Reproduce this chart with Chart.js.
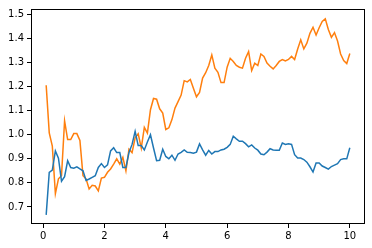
<!DOCTYPE html>
<html>
<head>
<meta charset="utf-8">
<script src="https://cdn.jsdelivr.net/npm/chart.js@4"></script>
<style>
  html, body { margin: 0; padding: 0; background: #fff; }
  #wrap { width: 372px; height: 248px; }
</style>
</head>
<body>
<div id="wrap"><canvas id="grafica" width="372" height="248"></canvas></div>
<script>
// x positions of the samples
var xs = [0.1,0.2,0.3,0.4,0.5,0.6,0.7,0.8,0.9,1.0,
  1.1,1.2,1.3,1.4,1.5,1.6,1.7,1.8,1.9,2.0,
  2.1,2.2,2.3,2.4,2.5,2.6,2.7,2.8,2.9,3.0,
  3.1,3.2,3.3,3.4,3.5,3.6,3.7,3.8,3.9,4.0,
  4.1,4.2,4.3,4.4,4.5,4.6,4.7,4.8,4.9,5.0,
  5.1,5.2,5.3,5.4,5.5,5.6,5.7,5.8,5.9,6.0,
  6.1,6.2,6.3,6.4,6.5,6.6,6.7,6.8,6.9,7.0,
  7.1,7.2,7.3,7.4,7.5,7.6,7.7,7.8,7.9,8.0,
  8.1,8.2,8.3,8.4,8.5,8.6,8.7,8.8,8.9,9.0,
  9.1,9.2,9.3,9.4,9.5,9.6,9.7,9.8,9.9,10.0]

var azul = [0.667,0.844,0.853,0.933,0.903,0.807,0.826,0.892,0.864,0.861,
  0.867,0.858,0.850,0.810,0.816,0.823,0.830,0.864,0.880,0.864,
  0.875,0.933,0.946,0.926,0.926,0.864,0.864,0.926,0.960,1.014,
  0.955,0.955,0.937,0.970,1.000,0.945,0.892,0.894,0.940,0.910,
  0.900,0.915,0.894,0.920,0.927,0.937,0.927,0.926,0.923,0.928,
  0.962,0.937,0.915,0.935,0.920,0.930,0.930,0.937,0.940,0.948,
  0.960,0.994,0.983,0.973,0.973,0.963,0.950,0.958,0.945,0.936,
  0.920,0.917,0.928,0.942,0.937,0.936,0.936,0.966,0.960,0.963,
  0.960,0.917,0.903,0.903,0.897,0.886,0.867,0.845,0.883,0.883,
  0.870,0.864,0.857,0.868,0.874,0.880,0.897,0.900,0.900,0.946]

var naranja = [1.206,1.008,0.953,0.755,0.817,0.830,1.058,0.980,0.980,1.005,
  1.005,0.976,0.830,0.817,0.775,0.790,0.787,0.767,0.820,0.823,
  0.844,0.858,0.878,0.900,0.878,0.906,0.850,0.940,0.926,0.987,
  1.004,0.945,1.031,1.007,1.104,1.151,1.148,1.108,1.090,1.022,
  1.029,1.063,1.111,1.138,1.165,1.225,1.220,1.230,1.193,1.158,
  1.176,1.236,1.258,1.288,1.332,1.277,1.260,1.217,1.217,1.281,
  1.318,1.305,1.288,1.281,1.277,1.318,1.346,1.267,1.298,1.288,
  1.336,1.326,1.298,1.285,1.274,1.288,1.305,1.313,1.307,1.313,
  1.326,1.313,1.357,1.395,1.357,1.381,1.422,1.447,1.415,1.445,
  1.471,1.482,1.438,1.405,1.425,1.390,1.336,1.309,1.296,1.338]

var xTicks = [0, 2, 4, 6, 8, 10]
var yTicks = [0.7, 0.8, 0.9, 1.0, 1.1, 1.2, 1.3, 1.4, 1.5]

var puntos = (ys) => ys.map((y, i) => ({x: xs[i], y: y}))

// marco negro alrededor del area (estilo matplotlib)
var marco = {
  id: 'marco',
  afterDraw(chart) {
    var a = chart.chartArea, c = chart.ctx
    c.save()
    c.strokeStyle = '#000'
    c.lineWidth = 1
    c.strokeRect(Math.round(a.left) + 0.5, Math.round(a.top) + 0.5,
      Math.round(a.right - a.left) - 1, Math.round(a.bottom - a.top) - 1)
    c.restore()
  }
}

Chart.defaults.font.family = 'DejaVu Sans'
Chart.defaults.font.size = 10
Chart.defaults.color = '#000'

var ctx = document.getElementById('grafica')
var grafica = new Chart(ctx, {
  type: 'line',
  data: {
    datasets: [
      { data: puntos(azul), borderColor: '#1f77b4', borderWidth: 1.5, pointRadius: 0, tension: 0 },
      { data: puntos(naranja), borderColor: '#ff7f0e', borderWidth: 1.5, pointRadius: 0, tension: 0 }
    ]
  },
  options: {
    responsive: false,
    animation: false,
    layout: { padding: { top: 6, right: 7, left: 0, bottom: 0 } },
    plugins: { legend: { display: false }, tooltip: { enabled: false } },
    scales: {
      x: {
        type: 'linear',
        min: -0.395,
        max: 10.495,
        border: { display: false },
        grid: { drawOnChartArea: false, tickLength: 4, tickColor: '#000' },
        ticks: { padding: 2, maxRotation: 0, callback: v => String(v) },
        afterBuildTicks: s => { s.ticks = xTicks.map(v => ({ value: v })) },
        afterFit: s => { s.height = 24 }
      },
      y: {
        min: 0.629,
        max: 1.523,
        border: { display: false },
        grid: { drawOnChartArea: false, tickLength: 4, tickColor: '#000' },
        ticks: { padding: 3, callback: v => v.toFixed(1) },
        afterBuildTicks: s => { s.ticks = yTicks.map(v => ({ value: v })) },
        afterFit: s => { s.width = 31 }
      }
    }
  },
  plugins: [marco]
})
</script>
</body>
</html>
